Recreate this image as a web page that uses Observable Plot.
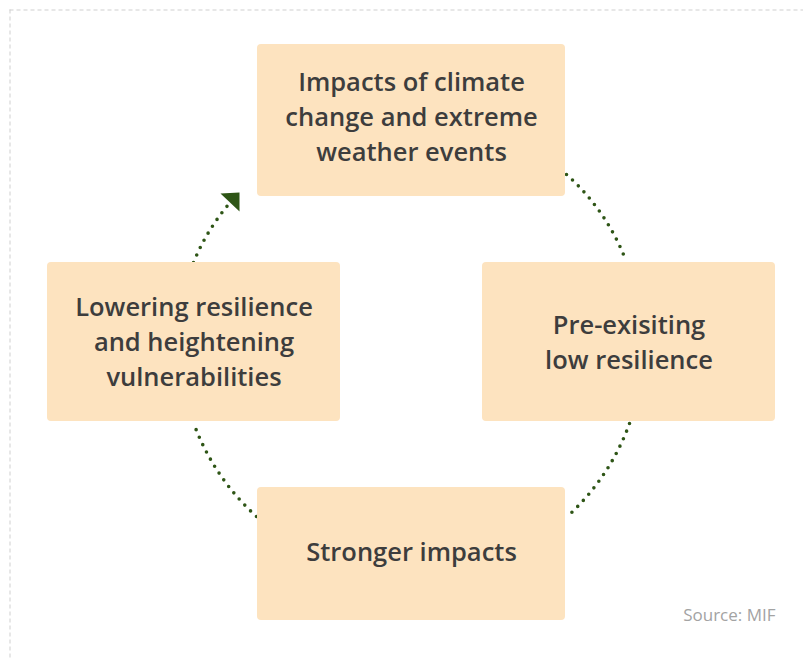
<!DOCTYPE html>
<html>
<head>
<meta charset="utf-8">
<script src="https://cdn.jsdelivr.net/npm/d3@7"></script>
<script src="https://cdn.jsdelivr.net/npm/@observablehq/plot@0.6"></script>
<style>
  html, body { margin: 0; padding: 0; background: #fff; }
  #chart svg { display: block; }
</style>
</head>
<body>
<div id="chart"></div>
<script>
// ---- Data (content only) ----
const stepLabels = [
  "Impacts of climate\nchange and extreme\nweather events",
  "Pre-exisiting\nlow resilience",
  "Stronger impacts",
  "Lowering resilience\nand heightening\nvulnerabilities"
];
const sourceNote = "Source: MIF";

// ---- Layout (pixel space) ----
const W = 803, H = 659;
const boxLayout = [
  {x1: 257, x2: 565, y1: 44,  y2: 196, ty: -6},
  {x1: 482, x2: 775, y1: 262, y2: 421, ty: -2},
  {x1: 257, x2: 565, y1: 487, y2: 620, ty: -4},
  {x1: 47,  x2: 340, y1: 262, y2: 421, ty: -2}
];
const nodes = stepLabels.map((label, i) => {
  const b = boxLayout[i];
  return {label, ...b, cx: (b.x1 + b.x2) / 2, cy: (b.y1 + b.y2) / 2 + b.ty};
});
// connectors between consecutive steps (clockwise)
const arcLayout = [
  {x1: 566, y1: 174, x2: 625, y2: 259},
  {x1: 629, y1: 423, x2: 569, y2: 514},
  {x1: 256, y1: 516, x2: 194, y2: 425},
];
const lastArc = [{x1: 193, y1: 262, x2: 228, y2: 204}];
const arrowTip = [{x: 239, y: 192}];

const green = "#2e5516";
const headSymbol = {
  draw(ctx, size) {
    const L = Math.sqrt(size / Math.PI) * 2;
    ctx.moveTo(0, 0);
    ctx.lineTo(-L, 1);
    ctx.lineTo(0, L);
    ctx.closePath();
  }
};

const dotted = {stroke: green, strokeWidth: 3.6, strokeDasharray: "0,8.2", strokeLinecap: "round", headLength: 0};

const chart = Plot.plot({
  width: W,
  height: H,
  margin: 0,
  x: {domain: [0, W], range: [0, W], axis: null},
  y: {domain: [0, H], range: [0, H], axis: null},
  style: {background: "#fff"},
  marks: [
    Plot.ruleY([9.5], {x1: 9.5, x2: W, stroke: "#cfcfcf", strokeDasharray: "4,3"}),
    Plot.ruleX([9.5], {y1: 9.5, y2: H, stroke: "#cfcfcf", strokeDasharray: "4,3"}),
    Plot.arrow(arcLayout, {x1: "x1", y1: "y1", x2: "x2", y2: "y2", bend: 13.5, ...dotted}),
    Plot.arrow(lastArc, {x1: "x1", y1: "y1", x2: "x2", y2: "y2", bend: 9, ...dotted}),
    Plot.dot(arrowTip, {x: "x", y: "y", symbol: headSymbol, r: 9.5, fill: green, stroke: "none"}),
    Plot.rect(nodes, {x1: "x1", x2: "x2", y1: "y1", y2: "y2", fill: "#fde3bf", rx: 4}),
    Plot.text(nodes, {
      x: "cx", y: "cy", text: "label",
      fontSize: 25.5, fontWeight: 600, fontFamily: "Open Sans",
      fill: "#3d3d3d", lineHeight: 1.37
    }),
    Plot.text([sourceNote], {
      x: 775, y: 615, text: d => d, textAnchor: "end",
      fontSize: 17, fontFamily: "Open Sans", fill: "#a3a3a3"
    })
  ]
});
document.getElementById("chart").appendChild(chart);
</script>
</body>
</html>
